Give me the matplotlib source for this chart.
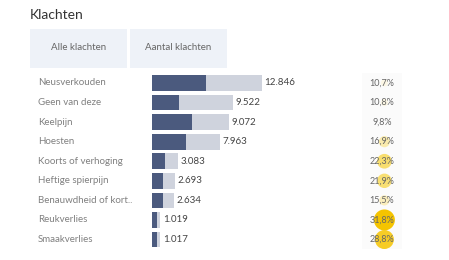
import matplotlib.pyplot as plt
import matplotlib.transforms as mtransforms
from matplotlib.patches import Rectangle
from matplotlib.colors import LinearSegmentedColormap

plt.rcParams['font.family'] = ['Lato', 'DejaVu Sans']

klachten = ['Neusverkouden', 'Geen van deze', 'Keelpijn', 'Hoesten',
            'Koorts of verhoging', 'Heftige spierpijn', 'Benauwdheid of kort..',
            'Reukverlies', 'Smaakverlies']
aantal = [12846, 9522, 9072, 7963, 3083, 2693, 2634, 1019, 1017]
deel = [6400, 3200, 4650, 4000, 1550, 1360, 1360, 580, 580]
percentage = [10.7, 10.8, 9.8, 16.9, 22.3, 21.9, 15.5, 31.8, 28.8]
knoppen = ['Alle klachten', 'Aantal klachten']

W, H = 449, 260
fig = plt.figure(figsize=(W / 100, H / 100), dpi=100)
fig.patch.set_facecolor('white')

def fx(px):
    return px / W

def fy(py):
    return 1 - py / H

fig.text(fx(30), fy(15), 'Klachten', fontsize=10, color='#333333', va='center')

# header knoppen
for i, k in enumerate(knoppen):
    x0 = 30 + i * 100
    fig.patches.append(Rectangle((fx(x0), fy(67.5)), fx(97), 38.5 / H,
                                 transform=fig.transFigure, facecolor='#eef2f8',
                                 edgecolor='none'))
    fig.text(fx(x0 + 48.5), fy(48), k, fontsize=7, color='#666666',
             ha='center', va='center')

# bars
top, bottom = 73.2, 249.3
ax = fig.add_axes([fx(151.7), fy(bottom), fx(340 - 151.7), (bottom - top) / H])
n = len(klachten)
ys = list(range(n))
ax.barh(ys, aantal, height=0.8, color='#cfd3dd', edgecolor='none')
ax.barh(ys, deel, height=0.8, color='#4b5a7e', edgecolor='none')
ax.set_xlim(0, (340 - 151.7) / 0.00856)
ax.set_ylim(n - 0.5, -0.5)
ax.axis('off')

trans = mtransforms.blended_transform_factory(fig.transFigure, ax.transData)
for y, lab, v in zip(ys, klachten, aantal):
    fig.text(fx(38), 0, lab, transform=trans, fontsize=7, color='#808080',
             va='center', ha='left').set_y(y)
    ax.text(v + 300, y, f'{v:,}'.replace(',', '.'), fontsize=7,
            color='#444444', va='center', ha='left')

# percentage kolom
ax2 = fig.add_axes([fx(362), fy(bottom), fx(40), (bottom - top) / H])
ax2.set_xlim(-1, 1)
ax2.set_ylim(n - 0.5, -0.5)
ax2.axis('off')
ax2.add_patch(Rectangle((-1, -0.5), 2, n, facecolor='#fbfbfb', edgecolor='none'))
cmap = LinearSegmentedColormap.from_list('geel', ['#fff6d8', '#f8d84e', '#f5c400'])
for y, p in zip(ys, percentage):
    d = 0.66 * p
    t = max(0.0, min(1.0, (p - 9.8) / (31.8 - 9.8)))
    ax2.scatter([0.12], [y], s=(d * 0.72) ** 2, color=cmap(t), edgecolor='none',
                alpha=0.45 + 0.55 * t if p > 10 else 0.0, zorder=2)
    ax2.text(0, y, f'{p:.1f}%'.replace('.', ','), fontsize=6.5, color='#666666',
             ha='center', va='center', zorder=3)

fig.savefig('out.png', dpi=100)
